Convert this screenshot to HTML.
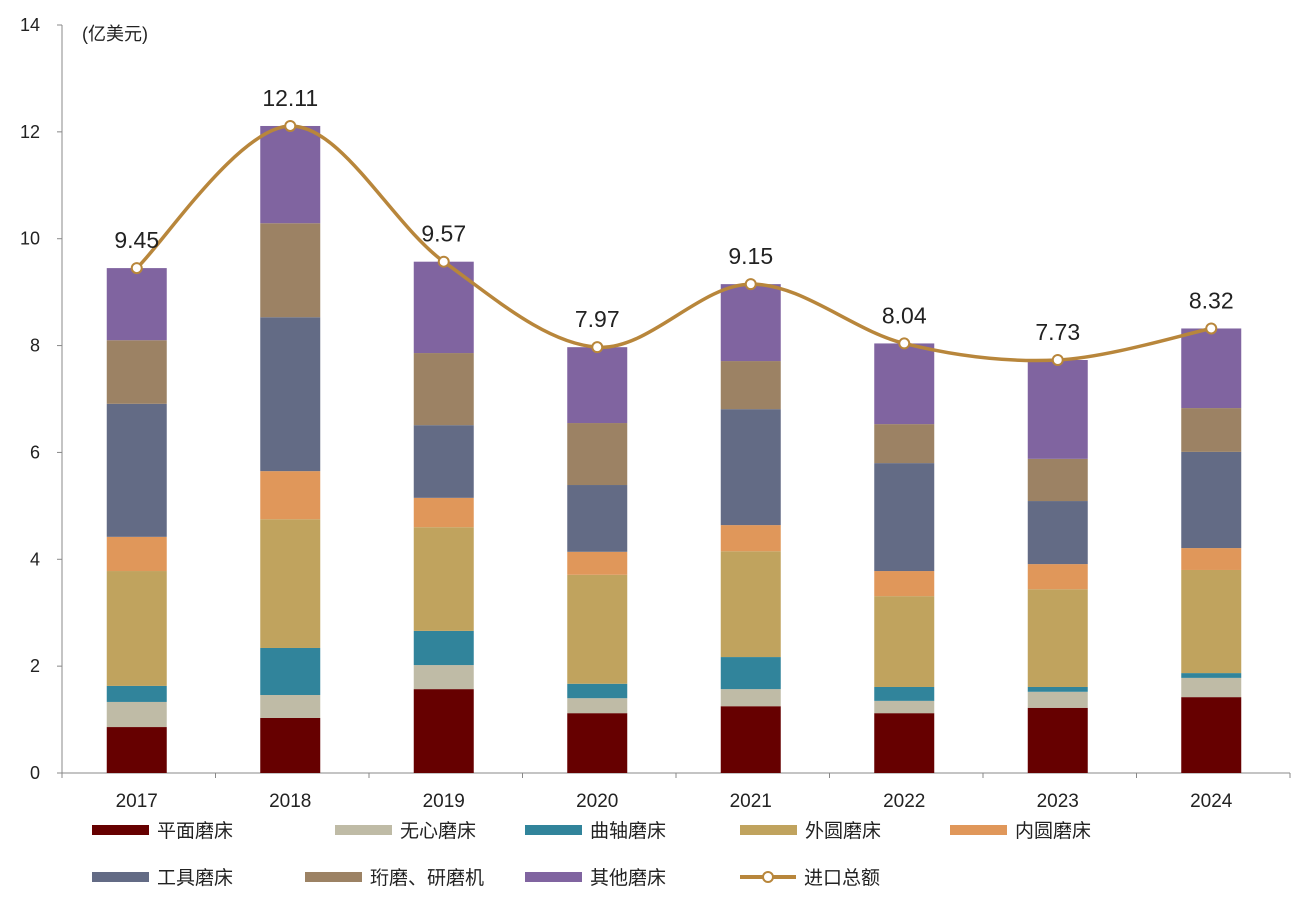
<!DOCTYPE html>
<html><head><meta charset="utf-8">
<style>
html,body{margin:0;padding:0;background:#fff;}
svg{display:block;font-family:"Liberation Sans","Noto Sans CJK SC",sans-serif;}
</style></head>
<body>
<svg id="chart" width="1299" height="903" viewBox="0 0 1299 903"></svg>
<script>
const years = ["2017","2018","2019","2020","2021","2022","2023","2024"];
const seriesNames = ["平面磨床","无心磨床","曲轴磨床","外圆磨床","内圆磨床","工具磨床","珩磨、研磨机","其他磨床"];
const seriesKeys = ["surface","centerless","crankshaft","cylindrical","internal","tool","honing","other"];
const surface     = [0.86,1.03,1.57,1.12,1.25,1.12,1.22,1.42];
const centerless  = [0.47,0.43,0.45,0.28,0.32,0.23,0.30,0.36];
const crankshaft  = [0.30,0.88,0.64,0.27,0.60,0.26,0.09,0.09];
const cylindrical = [2.15,2.41,1.94,2.04,1.98,1.70,1.83,1.93];
const internal    = [0.64,0.90,0.55,0.43,0.49,0.47,0.47,0.41];
const tool        = [2.49,2.88,1.36,1.25,2.17,2.02,1.18,1.80];
const honing      = [1.19,1.76,1.35,1.16,0.90,0.73,0.79,0.82];
const other       = [1.35,1.82,1.71,1.42,1.44,1.51,1.85,1.49];
const totals      = [9.45,12.11,9.57,7.97,9.15,8.04,7.73,8.32];
const yTicks      = [0,2,4,6,8,10,12,14];

const seriesData = [surface,centerless,crankshaft,cylindrical,internal,tool,honing,other];
const colors = ["#660000","#BFBBA6","#31849B","#C0A35E","#E0975A","#636B85","#9C8264","#8064A0"];
const lineColor = "#B8863B";
const NS = "http://www.w3.org/2000/svg";
const svg = document.getElementById("chart");
const x0 = 62, x1 = 1290, yBase = 773, yTop = 25, yMax = 14;
const band = (x1 - x0) / years.length;
function xC(i){ return x0 + band*(i+0.5) - 2; }
function yS(v){ return yBase - (yBase - yTop) * v / yMax; }
function mk(tag, attrs, parent){
  const e = document.createElementNS(NS, tag);
  for (const k in attrs) e.setAttribute(k, attrs[k]);
  (parent||svg).appendChild(e);
  return e;
}
const yAxis = mk("line",{x1:x0,y1:yTop,x2:x0,y2:yBase,stroke:"#888","stroke-width":1});


const xAxis = mk("line",{x1:x0,y1:yBase,x2:x1,y2:yBase,stroke:"#888","stroke-width":1});


yTicks.forEach(t=>{
  const y = yS(t);
  mk("line",{x1:x0-5,y1:y,x2:x0,y2:y,stroke:"#888"});
  const tx = mk("text",{x:40,y:y+6,"text-anchor":"end","font-size":18,fill:"#222"});
  tx.textContent = t;
  
  
});
const unit = mk("text",{x:82,y:40,"font-size":18,fill:"#222"});
unit.textContent = "(亿美元)";


for (let i=0;i<=years.length;i++){
  const xx = x0 + band*i;
  mk("line",{x1:xx,y1:yBase,x2:xx,y2:yBase+5,stroke:"#888"});
}
const bw = 60;
years.forEach((yr,i)=>{
  let acc = 0;
  seriesData.forEach((s,k)=>{
    const v = s[i];
    const r = mk("rect",{x:xC(i)-bw/2,y:yS(acc+v),width:bw,height:yS(acc)-yS(acc+v),fill:colors[k]});
    
    
    acc += v;
  });
  const t = mk("text",{x:xC(i),y:yBase+34,"text-anchor":"middle","font-size":19,fill:"#222"});
  t.textContent = yr;
  
  
});
const pts = totals.map((v,i)=>[xC(i),yS(v)]);
let d = "M"+pts[0][0]+","+pts[0][1];
for (let i=0;i<pts.length-1;i++){
  const p0 = pts[Math.max(0,i-1)], p1 = pts[i], p2 = pts[i+1], p3 = pts[Math.min(pts.length-1,i+2)];
  const c1 = [p1[0]+(p2[0]-p0[0])/6, p1[1]+(p2[1]-p0[1])/6];
  const c2 = [p2[0]-(p3[0]-p1[0])/6, p2[1]-(p3[1]-p1[1])/6];
  d += " C"+c1[0]+","+c1[1]+" "+c2[0]+","+c2[1]+" "+p2[0]+","+p2[1];
}
const line = mk("path",{d:d,fill:"none",stroke:lineColor,"stroke-width":3.5});


pts.forEach((p,i)=>{
  const c = mk("circle",{cx:p[0],cy:p[1],r:5,fill:"#fff",stroke:lineColor,"stroke-width":2});
  
  
  const t = mk("text",{x:p[0],y:p[1]-20,"text-anchor":"middle","font-size":23,fill:"#222"});
  t.textContent = totals[i].toFixed(2);
  
  
});
const legendPos = [[92,830],[335,830],[525,830],[740,830],[950,830],[92,877],[305,877],[525,877]];
seriesNames.forEach((n,k)=>{
  const [lx,ly] = legendPos[k];
  const g = mk("g",{});
  
  
  mk("rect",{x:lx,y:ly-5,width:57,height:10,fill:colors[k]},g);
  const t = mk("text",{x:lx+65,y:ly+7,"font-size":19,fill:"#222"},g);
  t.textContent = n;
});
const lg = mk("g",{});


mk("line",{x1:740,y1:877,x2:796,y2:877,stroke:lineColor,"stroke-width":4},lg);
mk("circle",{cx:768,cy:877,r:5,fill:"#fff",stroke:lineColor,"stroke-width":2},lg);
const lt = mk("text",{x:804,y:884,"font-size":19,fill:"#222"},lg);
lt.textContent = "进口总额";
</script>
</body></html>
